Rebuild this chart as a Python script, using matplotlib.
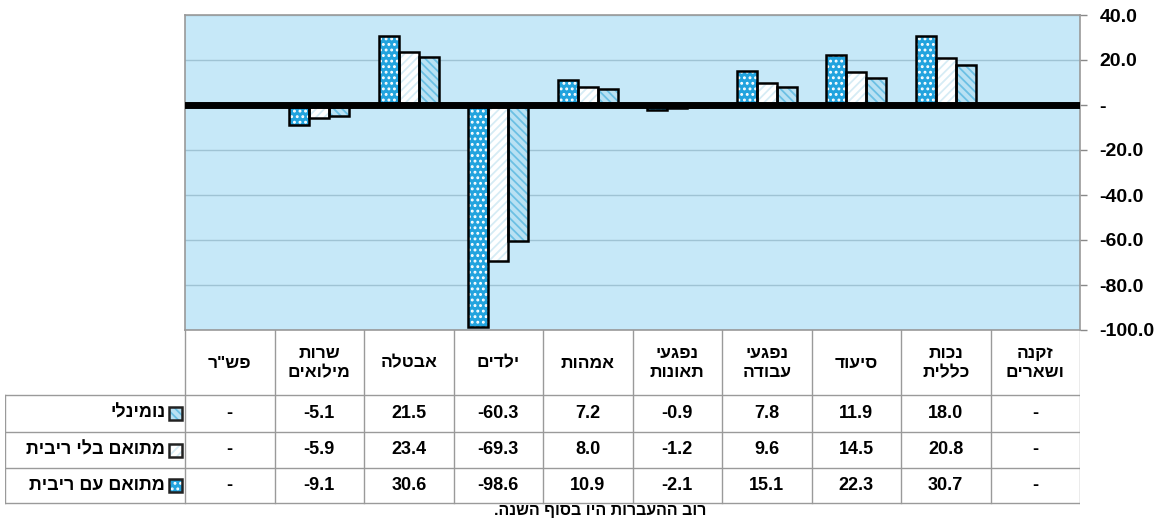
import matplotlib
matplotlib.use("Agg")
import matplotlib.pyplot as plt
from matplotlib.patches import Rectangle
import numpy as np

plt.rcParams['font.family'] = ['Liberation Sans', 'DejaVu Sans']
plt.rcParams['font.weight'] = 'bold'
plt.rcParams['hatch.linewidth'] = 1.3

# data
categories = ['פש"ר', 'שרות\nמילואים', 'אבטלה', 'ילדים', 'אמהות',
              'נפגעי\nתאונות', 'נפגעי\nעבודה', 'סיעוד', 'נכות\nכללית', 'זקנה\nושארים']
series_names = ['נומינלי', 'מתואם בלי ריבית', 'מתואם עם ריבית']
nominal = [None, -5.1, 21.5, -60.3, 7.2, -0.9, 7.8, 11.9, 18.0, None]
adj_no_int = [None, -5.9, 23.4, -69.3, 8.0, -1.2, 9.6, 14.5, 20.8, None]
adj_int = [None, -9.1, 30.6, -98.6, 10.9, -2.1, 15.1, 22.3, 30.7, None]
yticks = [40, 20, 0, -20, -40, -60, -80, -100]
footnote = 'רוב ההעברות היו בסוף השנה.'

# styles per series: face, hatch, hatch colour
styles = {
    'נומינלי': ('#b9e1f3', '\\\\\\\\', '#6cc0e4'),
    'מתואם בלי ריבית': ('white', '////', '#d6ecf5'),
    'מתואם עם ריבית': ('#22a3de', '...', 'white'),
}


def heb(s):
    # matplotlib has no bidi, reverse each line for visual order
    return '\n'.join(line[::-1] for line in s.split('\n'))


def fmt(v):
    return '-' if v is None else f'{v:.1f}'


W, H = 1163, 521
fig = plt.figure(figsize=(W / 100, H / 100), dpi=100)

# ---- bar chart ----
ax = fig.add_axes([185 / W, 1 - 330 / H, (1080 - 185) / W, 315 / H])
ax.set_facecolor('#c6e8f8')
x = np.arange(len(categories))
bw = 0.225
series = [(series_names[2], adj_int, -bw), (series_names[1], adj_no_int, 0.0),
          (series_names[0], nominal, bw)]
for name, vals, off in series:
    face, hatch, hcol = styles[name]
    v = np.array([np.nan if a is None else a for a in vals])
    ax.bar(x + off, v, bw, color=face, edgecolor=hcol, hatch=hatch, linewidth=0, zorder=3)
    ax.bar(x + off, v, bw, fill=False, edgecolor='black', linewidth=1.8, zorder=4)

ax.set_xlim(-0.5, len(categories) - 0.5)
ax.set_ylim(-100, 40)
ax.set_yticks(yticks)
ax.set_yticklabels(['-' if t == 0 else f'{t:.1f}' for t in yticks],
                   fontsize=14, fontweight='bold')
ax.yaxis.tick_right()
ax.tick_params(axis='y', length=5, width=1, color='#888888', pad=9)
ax.set_xticks([])
ax.grid(axis='y', color='#9fc3d4', linewidth=1, zorder=0)
ax.axhline(0, color='black', linewidth=5, zorder=5, solid_capstyle='round')
for sp in ax.spines.values():
    sp.set_color('#999999')
    sp.set_linewidth(1.2)

# ---- data table ----
left_x = -0.5 - 180 / 89.5
tax = fig.add_axes([5 / W, 1 - 505 / H, (1080 - 5) / W, (505 - 330) / H])
tax.set_xlim(left_x, len(categories) - 0.5)
tax.set_ylim(505, 330)
tax.axis('off')

lc = '#9a9a9a'
row_y = [395, 432, 468, 503]
for yy in row_y:
    tax.plot([left_x, len(categories) - 0.5], [yy, yy], color=lc, lw=1)
for k in range(len(categories) + 1):
    tax.plot([k - 0.5, k - 0.5], [330, 503], color=lc, lw=1)
tax.plot([left_x, left_x], [395, 503], color=lc, lw=1)

for i, c in enumerate(categories):
    tax.text(i, 363, heb(c), ha='center', va='center', fontsize=12.5,
             fontweight='bold', linespacing=1.35)

rows = [(series_names[0], nominal), (series_names[1], adj_no_int),
        (series_names[2], adj_int)]
sq_w = 13 / 89.5
for r, (name, vals) in enumerate(rows):
    yc = (row_y[r] + row_y[r + 1]) / 2
    for i, v in enumerate(vals):
        tax.text(i, yc, fmt(v), ha='center', va='center', fontsize=13, fontweight='bold')
    tax.text(-0.72, yc, heb(name), ha='right', va='center', fontsize=13, fontweight='bold')
    face, hatch, hcol = styles[name]
    tax.add_patch(Rectangle((-0.68, yc - 6.5), sq_w, 13, facecolor=face,
                            edgecolor=hcol, hatch=hatch, linewidth=0))
    tax.add_patch(Rectangle((-0.68, yc - 6.5), sq_w, 13, fill=False,
                            edgecolor='#222222', linewidth=1.8))

fig.text(600 / W, 1 - 511 / H, heb(footnote), ha='center', va='center',
         fontsize=11.5, fontweight='bold')

fig.savefig('out.png', dpi=100)
